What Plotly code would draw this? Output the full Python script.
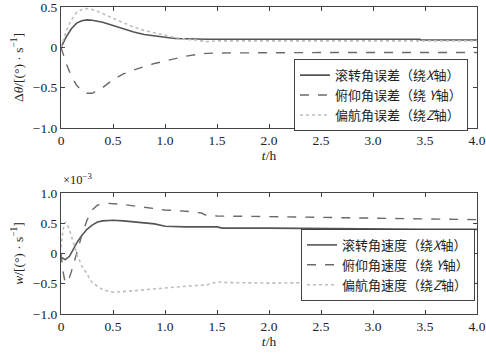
import plotly.graph_objects as go

# ---- top panel: attitude angle errors ----
t_top = [0, 0.05, 0.1, 0.15, 0.2, 0.25, 0.3, 0.4, 0.5, 0.6, 0.7, 0.8, 0.9, 1.0, 1.1, 1.2, 1.3, 1.4, 1.5, 2.0, 2.5, 3.0, 3.45, 3.46, 4.0]
roll_err = [0, 0.13, 0.23, 0.30, 0.33, 0.34, 0.335, 0.31, 0.27, 0.23, 0.19, 0.16, 0.14, 0.125, 0.11, 0.105, 0.10, 0.10, 0.10, 0.10, 0.10, 0.10, 0.10, 0.09, 0.09]
pitch_err = [0, -0.2, -0.36, -0.47, -0.54, -0.57, -0.57, -0.5, -0.4, -0.33, -0.28, -0.24, -0.2, -0.17, -0.14, -0.11, -0.09, -0.075, -0.07, -0.065, -0.065, -0.065, -0.065, -0.065, -0.065]
yaw_err = [0, 0.2, 0.34, 0.43, 0.47, 0.48, 0.47, 0.42, 0.36, 0.30, 0.25, 0.21, 0.18, 0.15, 0.12, 0.10, 0.09, 0.07, 0.08, 0.08, 0.08, 0.08, 0.08, 0.08, 0.08]

# ---- bottom panel: angular rates (x1e-3) ----
t_roll = [0, 0.04, 0.08, 0.12, 0.16, 0.2, 0.25, 0.3, 0.35, 0.4, 0.5, 0.6, 0.7, 0.8, 0.9, 1.0, 1.2, 1.5, 1.55, 2.0, 2.5, 3.0, 3.5, 4.0]
roll_rate = [-0.06, -0.1, -0.05, 0.08, 0.2, 0.3, 0.4, 0.47, 0.52, 0.54, 0.55, 0.54, 0.52, 0.51, 0.49, 0.45, 0.44, 0.44, 0.42, 0.42, 0.41, 0.41, 0.40, 0.40]
t_pitch = [0, 0.02, 0.04, 0.07, 0.1, 0.15, 0.2, 0.25, 0.3, 0.35, 0.45, 0.6, 0.8, 1.0, 1.2, 1.35, 1.4, 1.5, 2.0, 2.5, 3.0, 3.5, 4.0]
pitch_rate = [0, -0.3, -0.48, -0.45, -0.3, 0.0, 0.3, 0.55, 0.72, 0.8, 0.83, 0.81, 0.77, 0.72, 0.7, 0.67, 0.63, 0.62, 0.61, 0.6, 0.59, 0.58, 0.56]
t_yaw = [0, 0.02, 0.04, 0.06, 0.08, 0.1, 0.13, 0.16, 0.2, 0.25, 0.3, 0.4, 0.5, 0.6, 0.8, 1.0, 1.2, 1.4, 1.5, 1.6, 1.8, 2.0, 2.5, 3.0, 3.5, 4.0]
yaw_rate = [0.1, 0.4, 0.52, 0.48, 0.4, 0.28, 0.1, -0.05, -0.2, -0.35, -0.48, -0.6, -0.64, -0.63, -0.6, -0.56, -0.54, -0.52, -0.47, -0.48, -0.49, -0.49, -0.48, -0.48, -0.48, -0.48]

names_top = ["滚转角误差（绕<i>X</i>轴）", "俯仰角误差（绕 <i>Y</i>轴）", "偏航角误差（绕<i>Z</i>轴）"]
names_bot = ["滚转角速度（绕<i>X</i>轴）", "俯仰角速度（绕 <i>Y</i>轴）", "偏航角速度（绕<i>Z</i>轴）"]

x_ticks = [0, 0.5, 1.0, 1.5, 2.0, 2.5, 3.0, 3.5, 4.0]
x_ticktext = ["0", "0.5", "1.0", "1.5", "2.0", "2.5", "3.0", "3.5", "4.0"]
y_ticks = [-1.0, -0.5, 0, 0.5, 1.0]
y_ticktext = ["−1.0", "−0.5", "0", "0.5", "1.0"]

styles = [dict(color="#555555", width=1.6, dash="solid"),
          dict(color="#6a6a6a", width=1.4, dash="dash"),
          dict(color="#bdbdbd", width=1.6, dash="dot")]

fig = go.Figure()
for (y, nm, st) in zip([roll_err, pitch_err, yaw_err], names_top, styles):
    fig.add_trace(go.Scatter(x=t_top, y=y, name=nm, mode="lines", line=st,
                             xaxis="x", yaxis="y", legend="legend"))
for (tx, y, nm, st) in zip([t_roll, t_pitch, t_yaw], [roll_rate, pitch_rate, yaw_rate], names_bot, styles):
    fig.add_trace(go.Scatter(x=tx, y=y, name=nm, mode="lines", line=st,
                             xaxis="x2", yaxis="y2", legend="legend2"))

serif = "Liberation Serif, Times New Roman, serif"
axcommon = dict(showgrid=False, zeroline=False, showline=True, mirror="ticks",
                linecolor="#444", linewidth=1, ticks="inside", ticklen=4,
                tickcolor="#444", automargin=False, ticklabeloverflow="allow",
                tickfont=dict(family=serif, size=13.5, color="#222"))

fig.update_layout(
    width=486, height=356,
    margin=dict(l=61, r=9, t=7, b=42),
    paper_bgcolor="white", plot_bgcolor="white",
    font=dict(family=serif, size=13, color="#222"),
    xaxis=dict(domain=[0, 1], anchor="y", range=[0, 4], tickvals=x_ticks, ticktext=x_ticktext,
               title=dict(text="<i>t</i>/h", standoff=0, font=dict(size=13.5)), **axcommon),
    yaxis=dict(domain=[0.606, 1.0], anchor="x", range=[-1.0, 0.5], tickvals=y_ticks, ticktext=y_ticktext,
               title=dict(text="Δ<i>θ</i>/[(°) · s<sup>−1</sup>]", standoff=6, font=dict(size=13.5)), **axcommon),
    xaxis2=dict(domain=[0, 1], anchor="y2", range=[0, 4], tickvals=x_ticks, ticktext=x_ticktext,
                title=dict(text="<i>t</i>/h", standoff=0, font=dict(size=13.5)), **axcommon),
    yaxis2=dict(domain=[0.0, 0.394], anchor="x2", range=[-1.0, 1.0], tickvals=y_ticks, ticktext=y_ticktext,
                title=dict(text="<i>w</i>/[(°) · s<sup>−1</sup>]", standoff=6, font=dict(size=13.5)), **axcommon),
    legend=dict(x=0.56, y=0.83, xanchor="left", yanchor="top", bgcolor="white",
                bordercolor="#444", borderwidth=1, tracegroupgap=0,
                font=dict(family="Noto Sans CJK SC, " + serif, size=13, color="#222"),
                itemwidth=30),
    legend2=dict(x=0.577, y=0.277, xanchor="left", yanchor="top", bgcolor="white",
                 bordercolor="#444", borderwidth=1, tracegroupgap=0,
                 font=dict(family="Noto Sans CJK SC, " + serif, size=13, color="#222"),
                 itemwidth=30),
    showlegend=True,
    annotations=[dict(text="×10<sup>−3</sup>", xref="paper", yref="paper", x=0.0, y=0.394,
                      xanchor="left", yanchor="bottom", yshift=4, showarrow=False,
                      font=dict(family=serif, size=12.5, color="#222"))],
)

fig.write_html("out.html", config={"displayModeBar": False},
               post_script="document.body.style.margin='0';")
